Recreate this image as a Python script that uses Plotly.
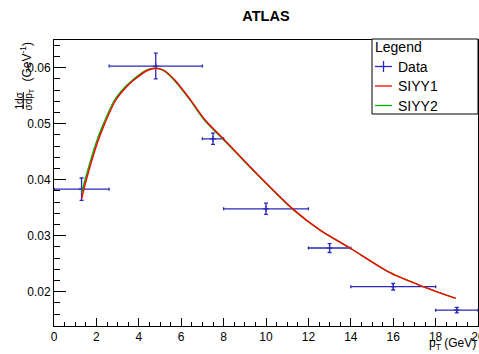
import plotly.graph_objects as go

# ---------------- data ----------------
data_x = [1.3, 4.8, 7.5, 10.0, 13.0, 16.0, 19.0]
data_y = [0.0383, 0.0603, 0.0473, 0.0348, 0.0278, 0.0209, 0.0167]
data_xerr_lo = [1.3, 2.2, 0.5, 2.0, 1.0, 2.0, 1.0]
data_xerr_hi = [1.3, 2.2, 0.5, 2.0, 1.0, 2.0, 1.0]
data_yerr = [0.0020, 0.0023, 0.0010, 0.0010, 0.0008, 0.0006, 0.0005]

siyy1_x = [1.31, 1.52, 2.04, 2.36, 2.9, 3.4, 3.77, 4.4, 4.84, 5.2, 5.7, 6.45, 7.12, 7.99,
           9.56, 11.29, 12.55, 13.96, 15.85, 17.42, 18.95]
siyy1_y = [0.0367, 0.0399, 0.0465, 0.0497, 0.0541, 0.0565, 0.0578, 0.0595, 0.0599, 0.0595,
           0.0578, 0.0542, 0.0507, 0.0473, 0.0411, 0.0347, 0.0310, 0.0278, 0.0234, 0.0209, 0.0188]

siyy2_x = [1.3, 1.46, 1.98, 2.3, 2.84, 3.34, 3.71, 4.34, 4.78, 5.15, 5.66, 6.42, 7.1, 7.98,
           9.56, 11.29, 12.55, 13.96, 15.85, 17.42, 18.95]
siyy2_y = [0.0376, 0.0399, 0.0465, 0.0497, 0.0541, 0.0565, 0.0578, 0.0595, 0.0599, 0.0595,
           0.0578, 0.0542, 0.0506, 0.0472, 0.0410, 0.0346, 0.0310, 0.0278, 0.0234, 0.0209, 0.0188]

x_range = [0, 20]
y_range = [0.01387, 0.06495]

# ---------------- styling ----------------
BLUE = "#2a2ab8"
RED = "#ff0000"
GREEN = "#00b000"
FONT = "Liberation Sans, Arial, Helvetica, sans-serif"

W, H = 479, 354
L, R, T, B = 54, 1, 40, 28
PW, PH = W - L - R, H - T - B


def px2x(px):
    return (px - L) / PW


def py2y(py):
    return (H - B - py) / PH


fig = go.Figure()

fig.add_trace(go.Scatter(
    x=data_x, y=data_y, mode="markers", name="Data", showlegend=False,
    marker=dict(symbol="cross-thin", size=4, color=BLUE, line=dict(width=1.2, color=BLUE)),
    error_x=dict(type="data", symmetric=False, array=data_xerr_hi, arrayminus=data_xerr_lo,
                 color=BLUE, thickness=1.3, width=1.5),
    error_y=dict(type="data", array=data_yerr, color=BLUE, thickness=1.3, width=2),
))
fig.add_trace(go.Scatter(
    x=siyy2_x, y=siyy2_y, mode="lines", name="SIYY2", showlegend=False,
    line=dict(color=GREEN, width=1.4, shape="spline", smoothing=0.8),
))
fig.add_trace(go.Scatter(
    x=siyy1_x, y=siyy1_y, mode="lines", name="SIYY1", showlegend=False,
    line=dict(color=RED, width=1.4, shape="spline", smoothing=0.8),
))

axis_common = dict(
    showgrid=False, zeroline=False, showline=True, linecolor="black", linewidth=1,
    mirror=True, ticks="inside", tickcolor="black", tickwidth=1, automargin=False,
    tickfont=dict(family=FONT, size=12, color="black"),
)

fig.update_xaxes(range=x_range, dtick=2, tick0=0, ticklen=8, ticklabeloverflow="allow",
                 minor=dict(dtick=0.5, ticks="inside", ticklen=4, tickcolor="black"),
                 **axis_common)
fig.update_yaxes(range=y_range, dtick=0.01, tick0=0, ticklen=12, tickformat=".2f",
                 minor=dict(dtick=0.002, ticks="inside", ticklen=6, tickcolor="black"),
                 **axis_common)

shapes = []
annotations = []

# legend (manual, ROOT style)
lx0, lx1, ly0, ly1 = 372, 478, 39, 114
shapes.append(dict(type="rect", xref="paper", yref="paper",
                   x0=px2x(lx0), x1=px2x(lx1), y0=py2y(ly1), y1=py2y(ly0),
                   line=dict(color="black", width=1), fillcolor="white", layer="above"))
annotations.append(dict(text="Legend", xref="paper", yref="paper", x=px2x(373), y=py2y(47),
                        xanchor="left", yanchor="middle", showarrow=False,
                        font=dict(family=FONT, size=14, color="black")))
leg_items = [("Data", BLUE, 66.5), ("SIYY1", RED, 86.0), ("SIYY2", GREEN, 105.5)]
for name, col, yy in leg_items:
    shapes.append(dict(type="line", xref="paper", yref="paper",
                       x0=px2x(375), x1=px2x(392), y0=py2y(yy), y1=py2y(yy),
                       line=dict(color=col, width=1.3), layer="above"))
    if name == "Data":
        shapes.append(dict(type="line", xref="paper", yref="paper",
                           x0=px2x(383.5), x1=px2x(383.5), y0=py2y(yy - 5.5), y1=py2y(yy + 5.5),
                           line=dict(color=col, width=1.3), layer="above"))
    annotations.append(dict(text=name, xref="paper", yref="paper", x=px2x(396), y=py2y(yy),
                            xanchor="left", yanchor="middle", showarrow=False,
                            font=dict(family=FONT, size=14, color="black")))

# x-axis title
annotations.append(dict(text="p<sub>T</sub> (GeV)", xref="paper", yref="paper",
                        x=px2x(478), y=py2y(344), xanchor="right", yanchor="middle",
                        showarrow=False, font=dict(family=FONT, size=12, color="black")))

# y-axis title (fraction 1/σ dσ/dp_T and unit)
annotations.append(dict(text="(GeV<sup>-1</sup>)", xref="paper", yref="paper",
                        x=px2x(25.5), y=py2y(62), xanchor="center", yanchor="middle",
                        textangle=-90, showarrow=False,
                        font=dict(family=FONT, size=12, color="black")))
annotations.append(dict(text="1dσ", xref="paper", yref="paper",
                        x=px2x(19), y=py2y(100.5), xanchor="center", yanchor="middle",
                        textangle=-90, showarrow=False,
                        font=dict(family=FONT, size=10, color="black")))
annotations.append(dict(text="σdp<sub>T</sub>", xref="paper", yref="paper",
                        x=px2x(28.5), y=py2y(100), xanchor="center", yanchor="middle",
                        textangle=-90, showarrow=False,
                        font=dict(family=FONT, size=10, color="black")))
shapes.append(dict(type="line", xref="paper", yref="paper",
                   x0=px2x(23.3), x1=px2x(23.3), y0=py2y(109), y1=py2y(92),
                   line=dict(color="black", width=1)))

fig.update_layout(
    width=W, height=H, autosize=False,
    margin=dict(l=L, r=R, t=T, b=B, pad=0, autoexpand=False),
    paper_bgcolor="white", plot_bgcolor="white",
    title=dict(text="<b>ATLAS</b>", x=0.5, xref="paper", xanchor="center",
               y=1 - 16 / H, yref="container", yanchor="middle",
               font=dict(family=FONT, size=14.5, color="black")),
    showlegend=False,
    shapes=shapes, annotations=annotations,
)

fig.write_html("out.html", config={"displayModeBar": False},
               post_script="document.body.style.margin='0';document.body.style.overflow='hidden';")
